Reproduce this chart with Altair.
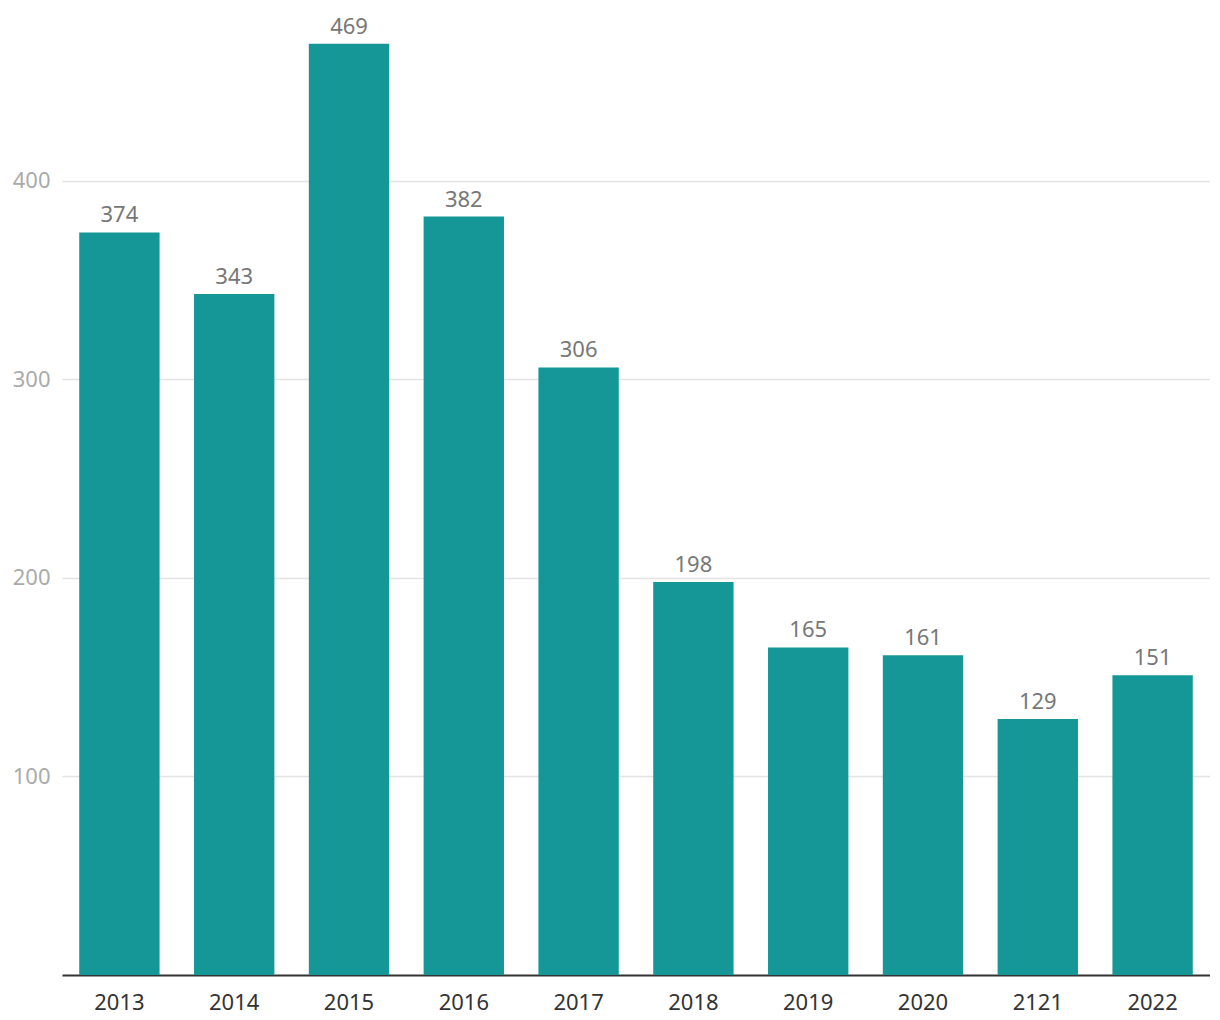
import altair as alt
import pandas as pd

years = ["2013", "2014", "2015", "2016", "2017", "2018", "2019", "2020", "2121", "2022"]
values = [374, 343, 469, 382, 306, 198, 165, 161, 129, 151]

df = pd.DataFrame({"year": years, "value": values})

FONT = "Noto Sans"

x = alt.X(
    "year:N",
    sort=years,
    title=None,
    scale=alt.Scale(paddingInner=0.3, paddingOuter=0.15),
    axis=alt.Axis(
        labelAngle=0,
        labelFont=FONT,
        labelFontSize=22,
        labelColor="#333333",
        labelPadding=17,
        ticks=False,
        domain=True,
        domainColor="#333333",
        domainWidth=2,
        grid=False,
    ),
)
y = alt.Y(
    "value:Q",
    title=None,
    scale=alt.Scale(domain=[0, 480], nice=False),
    axis=alt.Axis(
        values=[100, 200, 300, 400],
        labelFont=FONT,
        labelFontSize=22,
        labelColor="#aaaaaa",
        labelPadding=12,
        ticks=False,
        domain=False,
        grid=True,
        gridColor="#e3e3e3",
        gridWidth=1.5,
    ),
)

base = alt.Chart(df)
bars = base.mark_bar(color="#159797").encode(x=x, y=y)
labels = base.mark_text(
    baseline="bottom", dy=-5, font=FONT, fontSize=22, color="#777777"
).encode(x=alt.X("year:N", sort=years), y="value:Q", text="value:Q")

chart = (
    alt.layer(bars, labels)
    .properties(
        width=1148,
        height=953,
        background="white",
        autosize=alt.AutoSizeParams(type="none"),
        padding={"left": 54, "top": 14, "right": 0, "bottom": 35},
    )
    .configure_view(strokeWidth=0, stroke=None)
)

chart.save("out.html", embed_options={"renderer": "svg", "actions": False})
